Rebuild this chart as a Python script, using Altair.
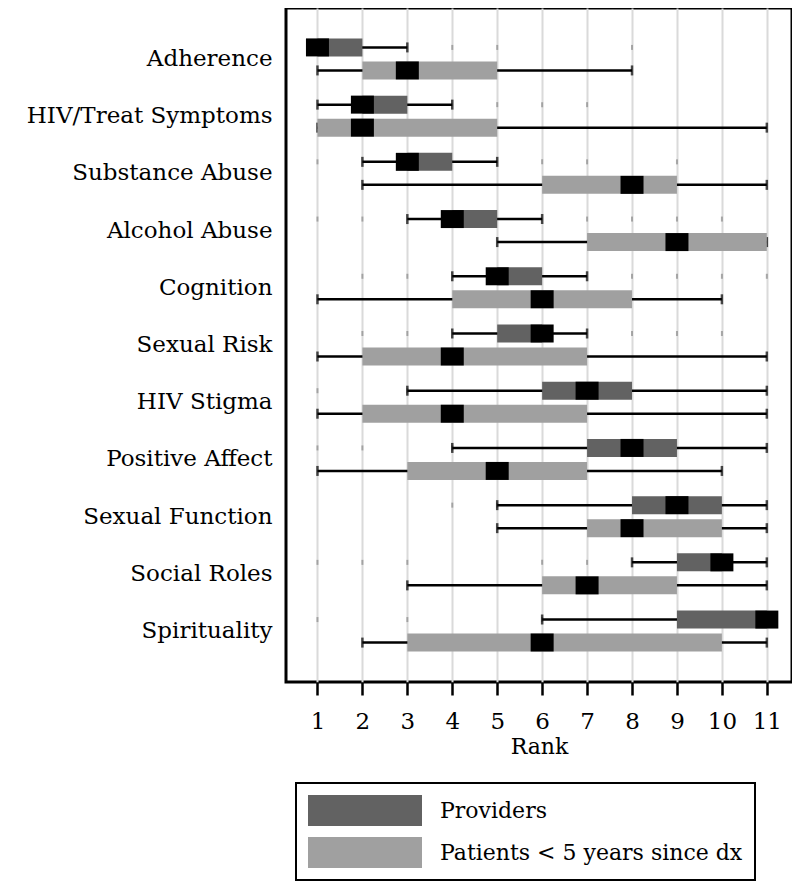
import altair as alt
import pandas as pd

categories = ["Adherence", "HIV/Treat Symptoms", "Substance Abuse", "Alcohol Abuse",
              "Cognition", "Sexual Risk", "HIV Stigma", "Positive Affect",
              "Sexual Function", "Social Roles", "Spirituality"]
groups = ["Providers", "Patients < 5 years since dx"]

prov_min = [1, 1, 2, 3, 4, 4, 3, 4, 5, 8, 6]
prov_q1 = [1, 2, 3, 4, 5, 5, 6, 7, 8, 9, 9]
prov_med = [1, 2, 3, 4, 5, 6, 7, 8, 9, 10, 11]
prov_q3 = [2, 3, 4, 5, 6, 6, 8, 9, 10, 10, 11]
prov_max = [3, 4, 5, 6, 7, 7, 11, 11, 11, 11, 11]

pat_min = [1, 1, 2, 5, 1, 1, 1, 1, 5, 3, 2]
pat_q1 = [2, 1, 6, 7, 4, 2, 2, 3, 7, 6, 3]
pat_med = [3, 2, 8, 9, 6, 4, 4, 5, 8, 7, 6]
pat_q3 = [5, 5, 9, 11, 8, 7, 7, 7, 10, 9, 10]
pat_max = [8, 11, 11, 11, 10, 11, 11, 10, 11, 11, 11]

prov_outliers = [[4, 5, 8], [5, 6, 7], [1, 6, 7, 9], [1, 2, 7, 8, 9, 10],
                 [2, 3, 8, 9, 10, 11], [2, 3, 8, 9, 10], [1, 3], [1, 2, 4],
                 [4, 5], [1, 2, 3, 6, 7], [1, 3, 6]]

rank_ticks = list(range(1, 12))

rows = []
for i, c in enumerate(categories):
    rows.append(dict(category=c, group=groups[0], lo=prov_min[i], q1=prov_q1[i],
                     med=prov_med[i], q3=prov_q3[i], hi=prov_max[i]))
    rows.append(dict(category=c, group=groups[1], lo=pat_min[i], q1=pat_q1[i],
                     med=pat_med[i], q3=pat_q3[i], hi=pat_max[i]))
box_df = pd.DataFrame(rows)

out_df = pd.DataFrame([dict(category=c, group=groups[0], value=v)
                       for c, vals in zip(categories, prov_outliers) for v in vals])

FONT = "DejaVu Serif"

y_enc = alt.Y("category:N", sort=categories,
              scale=alt.Scale(paddingInner=0, paddingOuter=0.39),
              axis=alt.Axis(title=None, ticks=False, domain=False, grid=False,
                            labelFont=FONT, labelFontSize=23, labelColor="black",
                            labelPadding=14, labelLimit=400,
                            minExtent=278, maxExtent=278))
yoff_enc = alt.YOffset("group:N", sort=groups,
                       scale=alt.Scale(paddingInner=0, paddingOuter=0.243))
x_scale = alt.Scale(domain=[0.3, 11.56], nice=False, zero=False)
x_axis = alt.Axis(values=rank_ticks, grid=True, gridColor="#dadada", gridWidth=2,
                  domain=False, tickColor="black", tickWidth=2.5, tickSize=13,
                  labelFont=FONT, labelFontSize=23, labelColor="black", labelPadding=15,
                  titleFont=FONT, titleFontSize=22, titleFontWeight="normal",
                  titleColor="black", titlePadding=3)

base = alt.Chart(box_df)

outliers = alt.Chart(out_df).mark_tick(color="#8a8a8a", size=5, thickness=2).encode(
    x=alt.X("value:Q", scale=x_scale, axis=x_axis, title="Rank"),
    y=y_enc, yOffset=yoff_enc)

whisker = base.mark_rule(color="black", strokeWidth=2.5).encode(
    x=alt.X("lo:Q", scale=x_scale, axis=x_axis, title="Rank"), x2="hi:Q",
    y=y_enc, yOffset=yoff_enc)

caps = base.transform_fold(["lo", "hi"], as_=["end", "v"]).mark_tick(
    color="black", size=10, thickness=2.5).encode(
    x=alt.X("v:Q", scale=x_scale, axis=x_axis, title="Rank"),
    y=y_enc, yOffset=yoff_enc)

box = base.mark_bar(height=18).encode(
    x=alt.X("q1:Q", scale=x_scale, axis=x_axis, title="Rank"), x2="q3:Q",
    y=y_enc, yOffset=yoff_enc,
    color=alt.Color("group:N",
                    scale=alt.Scale(domain=groups, range=["#626262", "#a0a0a0"]),
                    legend=alt.Legend(orient="none", legendX=10, legendY=775, title=None,
                                      symbolType="M-1,-0.272L1,-0.272L1,0.272L-1,0.272Z",
                                      symbolSize=12996, clipHeight=31,
                                      symbolStrokeWidth=0, symbolOpacity=1,
                                      labelFont=FONT, labelFontSize=22, labelColor="black",
                                      labelLimit=500,
                                      labelOffset=18, rowPadding=11, padding=12,
                                      strokeColor="black")))

median = base.mark_tick(color="black", size=18, thickness=23, opacity=1).encode(
    x=alt.X("med:Q", scale=x_scale, axis=x_axis, title="Rank"),
    y=y_enc, yOffset=yoff_enc)

chart = alt.layer(outliers, whisker, caps, box, median).properties(
    width=506, height=674,
    padding={"left": 0, "top": 0, "right": 0, "bottom": 0}
).configure_view(stroke="black", strokeWidth=3).configure_legend(strokeWidth=2)

chart.save("out.html", embed_options={"renderer": "svg", "actions": False})
